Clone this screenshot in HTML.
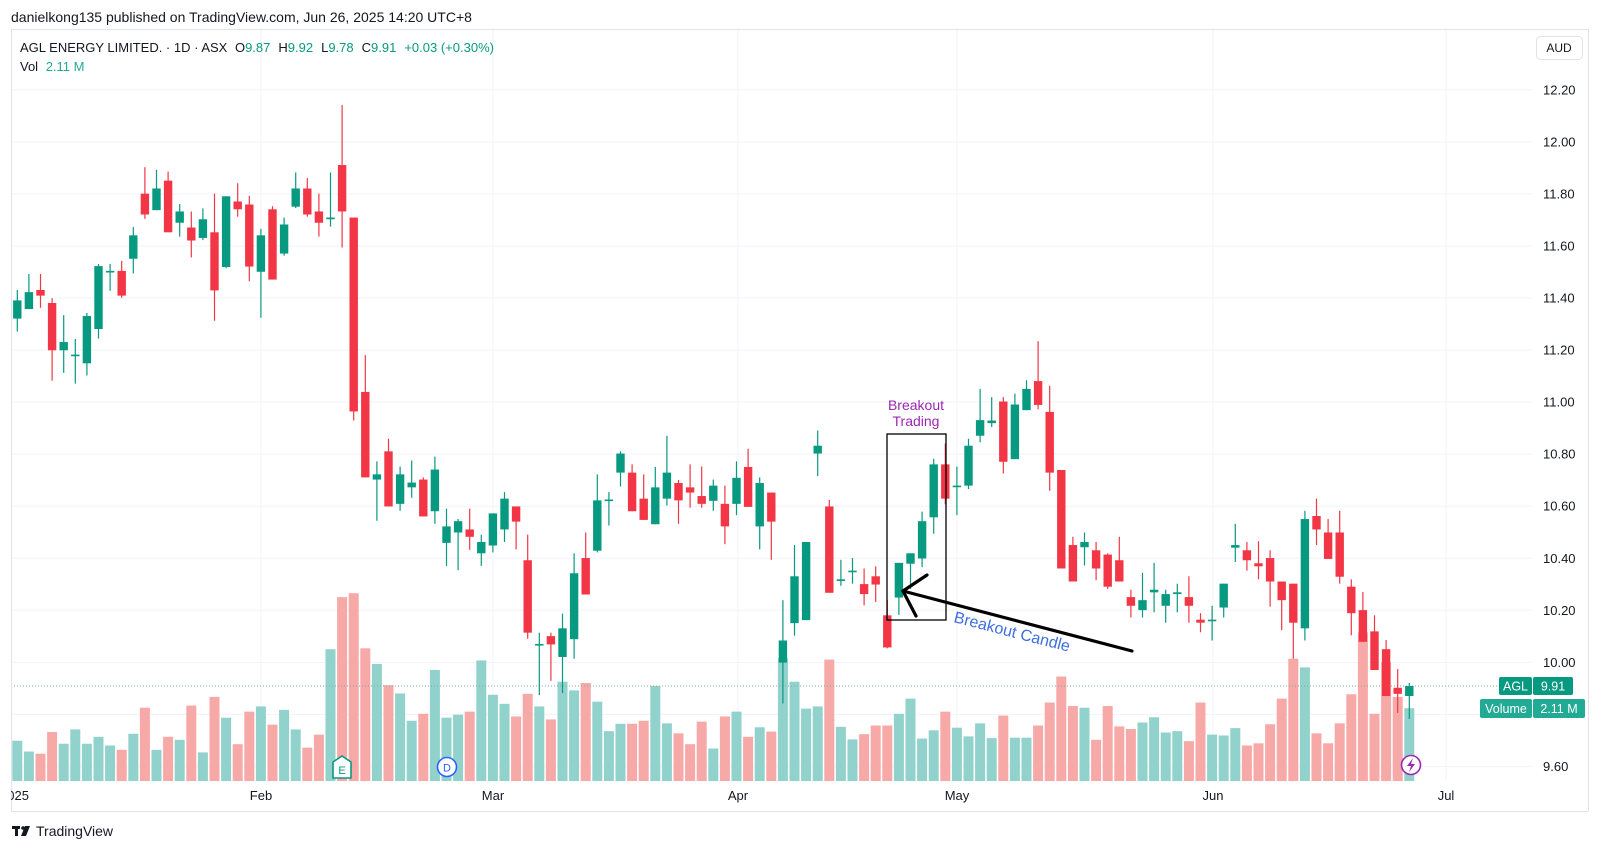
<!DOCTYPE html>
<html><head><meta charset="utf-8">
<style>
html,body{margin:0;padding:0;background:#fff;}
body{width:1600px;height:850px;overflow:hidden;font-family:"Liberation Sans",sans-serif;}
svg text{font-family:"Liberation Sans",sans-serif;}
</style></head>
<body>
<svg id="c" width="1600" height="850" xmlns="http://www.w3.org/2000/svg">
<rect width="1600" height="850" fill="#fff"/>
<g id="grid"></g>
<g id="vol"></g>
<line x1="11" y1="686" x2="1532" y2="686" stroke="#7fa8a4" stroke-width="1" stroke-dasharray="1,2"/>
<g id="cdl"></g>
<!-- pane borders -->
<line x1="11" y1="29.5" x2="1588" y2="29.5" stroke="#e0e3eb"/>
<line x1="11.5" y1="29" x2="11.5" y2="811" stroke="#e0e3eb"/>
<line x1="11" y1="811.5" x2="1588" y2="811.5" stroke="#e0e3eb"/>
<line x1="1588.5" y1="29" x2="1588.5" y2="811" stroke="#e0e3eb"/>
<!-- header -->
<text x="11" y="22" font-size="14" fill="#131722">danielkong135 published on TradingView.com, Jun 26, 2025 14:20 UTC+8</text>
<text x="20" y="52" font-size="13" fill="#131722">AGL ENERGY LIMITED. · 1D · ASX <tspan dx="4">O</tspan><tspan fill="#089981">9.87</tspan><tspan dx="8">H</tspan><tspan fill="#089981">9.92</tspan><tspan dx="8">L</tspan><tspan fill="#089981">9.78</tspan><tspan dx="8">C</tspan><tspan fill="#089981">9.91</tspan><tspan dx="8" fill="#089981">+0.03 (+0.30%)</tspan></text>
<text x="20" y="71" font-size="13" fill="#131722">Vol <tspan dx="4" fill="#22ab94">2.11 M</tspan></text>
<rect x="1536.5" y="36.5" width="46" height="23" rx="4" fill="#fff" stroke="#e0e3eb"/>
<text x="1559" y="52" font-size="12" fill="#131722" text-anchor="middle">AUD</text>
<!-- annotations -->
<rect x="887" y="434" width="59" height="186" fill="none" stroke="#000" stroke-width="1.3"/>
<text x="916" y="410" font-size="14" fill="#9c27b0" text-anchor="middle">Breakout</text>
<text x="916" y="426" font-size="14" fill="#9c27b0" text-anchor="middle">Trading</text>
<g stroke="#000" stroke-width="3.2" stroke-linecap="round">
<line x1="903" y1="591" x2="927" y2="575"/>
<line x1="903" y1="591" x2="916" y2="616"/>
<line x1="903" y1="591" x2="1132" y2="651"/>
</g>
<text x="1012" y="637" font-size="16" fill="#3d6fe0" text-anchor="middle" transform="rotate(14.5 1012 632)">Breakout Candle</text>
<!-- markers -->
<path d="M333,762 L342,756 L351,762 L351,778 L333,778 Z" fill="#fff" stroke="#089981" stroke-width="1.6"/>
<text x="342" y="774" font-size="11" fill="#089981" text-anchor="middle">E</text>
<circle cx="447" cy="767" r="9.5" fill="#fff" stroke="#2962ff" stroke-width="1.6"/>
<text x="447" y="771.5" font-size="11" fill="#2962ff" text-anchor="middle">D</text>
<circle cx="1411" cy="765" r="9.5" fill="#fff" stroke="#9c27b0" stroke-width="1.6"/>
<path d="M1413,758 L1407,766 L1411,766 L1409,772 L1415,764 L1411,764 Z" fill="#9c27b0"/>
<!-- price labels -->
<g id="plab" font-size="13" fill="#131722"></g>
<rect x="1499" y="677" width="33" height="18" rx="2" fill="#089981"/>
<rect x="1533" y="677" width="40" height="18" rx="2" fill="#089981"/>
<text x="1515.5" y="690.5" font-size="12.5" fill="#fff" text-anchor="middle">AGL</text>
<text x="1553" y="690.5" font-size="12.5" fill="#fff" text-anchor="middle">9.91</text>
<rect x="1480" y="699" width="52" height="19" rx="2" fill="#22ab94"/>
<rect x="1533" y="699" width="52" height="19" rx="2" fill="#22ab94"/>
<text x="1506" y="713" font-size="12.5" fill="#fff" text-anchor="middle">Volume</text>
<text x="1559" y="713" font-size="12.5" fill="#fff" text-anchor="middle">2.11 M</text>
<!-- time labels -->
<g font-size="13" fill="#131722" text-anchor="middle">
<text x="261" y="800">Feb</text>
<text x="493" y="800">Mar</text>
<text x="738" y="800">Apr</text>
<text x="957" y="800">May</text>
<text x="1213" y="800">Jun</text>
<text x="1446" y="800">Jul</text>
</g>
<text x="0" y="800" font-size="13" fill="#131722">2025</text>
<rect x="0" y="785" width="11" height="20" fill="#fff"/>
<!-- logo -->
<g fill="#131722">
<rect x="12" y="826" width="8" height="3"/><rect x="15" y="826" width="3" height="10"/>
<circle cx="23" cy="828" r="1.8"/><path d="M25,826 L30,826 L26,836 L21,836 Z"/>
</g>
<text x="36" y="836" font-size="14" fill="#131722">TradingView</text>
</svg>
<script>
var D=[
"g 485 527 461 557 1500","g 466 505 424 505 1525","r 461 474 424 502 1530","r 491 600 480 670 1480","g 581 600 519 652 1507",
"g 610 612 574 677 1474","g 521 630 514 658 1507","g 406 551 401 573 1491","g 417 419 401 463 1511","r 417 474 394 479 1521",
"g 335 389 316 423 1484","r 239 287 178 297 1424","g 227 277 184 277 1521","r 209 328 188 328 1491","g 280 306 263 338 1498",
"r 317 347 280 386 1419","g 298 341 273 346 1527","r 328 462 239 532 1399","g 245 408 245 411 1447","r 257 275 215 292 1508",
"r 264 407 244 441 1433","g 335 419 320 525 1421","r 275 437 268 437 1463","g 310 377 294 382 1429","g 227 269 190 272 1474",
"r 227 287 203 292 1516","r 280 306 239 338 1486","g 294 298 190 315 1289","r 173 280 35 363 1169","r 294 741 294 762 1160",
"r 696 893 611 893 1287","g 886 898 856 993 1323","r 833 960 804 960 1372","g 886 954 868 970 1391","g 905 916 854 940 1454",
"r 898 983 893 983 1438","g 875 971 845 1000 1337","g 1006 1044 965 1097 1447","g 994 1020 989 1107 1440","r 1013 1030 965 1060 1433",
"g 1042 1068 1025 1097 1315","g 976 1050 976 1066 1394","g 942 1013 927 1042 1415","r 960 995 960 1059 1444","r 1084 1251 1025 1265 1392",
"g 1277 1279 1251 1395 1421","r 1259 1278 1251 1362 1451","g 1241 1307 1207 1390 1364","g 1114 1266 1068 1311 1384","r 1079 1163 1020 1163 1367",
"g 946 1062 886 1066 1410","g 944 946 927 1004 1478","g 838 882 833 914 1461","r 882 971 863 971 1461","r 942 991 886 991 1454",
"g 916 1001 869 1001 1374","g 882 942 797 958 1460","r 906 946 899 1000 1483","r 916 928 863 963 1508","r 936 954 868 963 1456",
"g 912 947 898 970 1518","r 954 1006 912 1047 1444","g 894 954 856 980 1433","r 869 961 827 961 1491","g 906 1006 893 1059 1469",
"r 928 995 928 1083 1479","g 1269 1320 1176 1414 1310","g 1121 1229 1049 1258 1364","g 1042 1222 1042 1222 1426","g 820 838 785 890 1421",
"r 960 1159 945 1159 1313","g 1128 1130 1083 1143 1468","g 1108 1110 1079 1138 1497","r 1139 1162 1103 1188 1485","r 1121 1140 1098 1180 1465",
"r 1211 1285 1176 1287 1465","g 1090 1170 1090 1210 1438","g 1068 1092 1068 1150 1403","g 994 1080 972 1100 1495","g 863 985 850 1023 1476",
"r 863 942 815 955 1433","g 912 914 868 980 1470","g 820 912 804 920 1490","g 761 797 689 812 1460","g 762 768 708 777 1494",
"r 718 857 708 884 1442","g 725 851 700 851 1493","g 689 738 669 738 1493","r 671 726 579 736 1465","r 742 882 682 924 1412",
"r 876 1103 876 1103 1352","r 1049 1133 1030 1133 1420","g 1042 1054 1020 1096 1424","r 1061 1103 1042 1130 1498","r 1071 1145 1068 1150 1420",
"r 1084 1133 1030 1133 1467","r 1169 1189 1152 1216 1473","g 1176 1199 1113 1216 1458","g 1152 1158 1090 1204 1446","g 1162 1189 1152 1228 1481",
"g 1158 1162 1138 1204 1478","r 1169 1189 1121 1228 1501","r 1221 1228 1206 1250 1412","g 1221 1223 1189 1269 1486","g 1138 1193 1138 1216 1488",
"g 1049 1055 1000 1088 1471","r 1061 1084 1042 1108 1511","r 1091 1098 1040 1128 1506","r 1079 1133 1061 1191 1462","r 1133 1176 1133 1245 1403",
"r 1138 1228 1138 1311 1311","g 989 1241 970 1269 1331","r 982 1013 942 1049 1483","r 1020 1081 989 1081 1506","r 1020 1122 970 1138 1460",
"r 1145 1206 1128 1257 1393","r 1199 1272 1157 1272 1250","r 1248 1337 1211 1337 1438","r 1289 1397 1268 1397 1319","r 1378 1392 1335 1436 1399",
"g 1374 1397 1367 1450 1425"];
var NS="http://www.w3.org/2000/svg";
function el(p,t,a){var e=document.createElementNS(NS,t);for(var k in a)e.setAttribute(k,a[k]);p.appendChild(e);return e;}
function Y(z){return 90+z*0.4338;}
var grid=document.getElementById('grid'),vol=document.getElementById('vol'),cdl=document.getElementById('cdl'),plab=document.getElementById('plab');
// horizontal grid + labels
for(var i=0;i<=13;i++){var p=12.2-i*0.2;var y=89.8+i*52.05;
 el(grid,'line',{x1:11,x2:1532,y1:y,y2:y,stroke:'#f0f3fa','stroke-width':1});
 if(Math.abs(p-9.8)>0.01){var t=el(plab,'text',{x:1543,y:y+4.5});t.textContent=p.toFixed(2);}
}
[261,493,738,957,1213,1446].forEach(function(x){el(grid,'line',{x1:x,x2:x,y1:29,y2:781,stroke:'#f0f3fa','stroke-width':1});});
D.forEach(function(s,i){
 var a=s.split(' ');var g=a[0]=='g';var x=17.3+i*11.6;
 var bt=Y(+a[1]),bb=Y(+a[2]),wt=Y(+a[3]),wb=Y(+a[4]),vt=Y(+a[5]);
 el(vol,'rect',{x:x-5,y:vt,width:10,height:781-vt,fill:g?'#92d2cc':'#f7a9a7'});
 var c=g?'#089981':'#f23645';
 el(cdl,'line',{x1:x,x2:x,y1:wt,y2:wb,stroke:c,'stroke-width':1.2});
 var h=Math.max(bb-bt,1.6);
 el(cdl,'rect',{x:x-4.2,y:bt,width:8.4,height:h,fill:c});
});
</script>
</body></html>
